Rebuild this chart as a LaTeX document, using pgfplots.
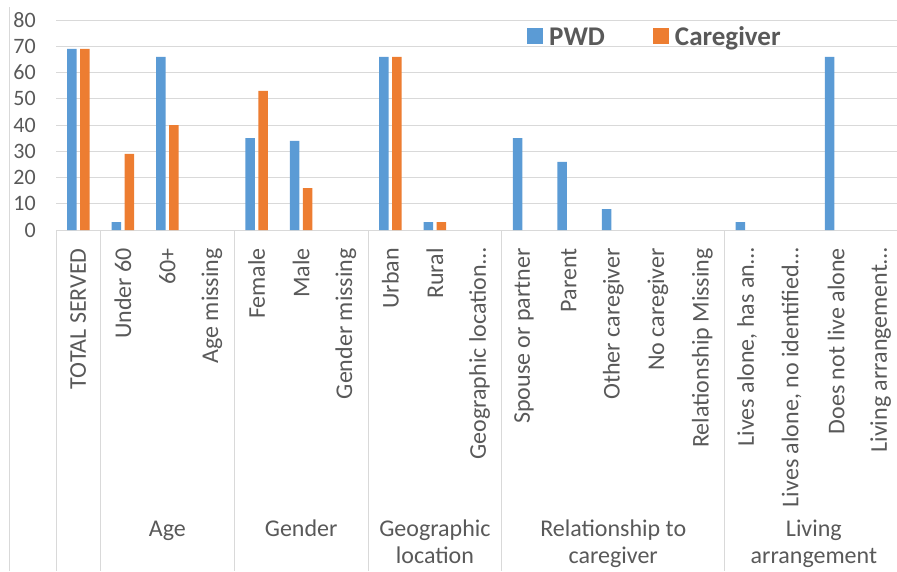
\documentclass[border=0pt]{standalone}
\usepackage{fontspec}
\setmainfont{Carlito}
\usepackage{pgfplots}
\pgfplotsset{compat=1.18}

\definecolor{pwd}{HTML}{5B9BD5}
\definecolor{cg}{HTML}{ED7D31}
\definecolor{txt}{HTML}{595959}
\definecolor{gridc}{HTML}{D9D9D9}

\begin{document}
\begin{tikzpicture}
\begin{axis}[
  at={(56pt,341pt)}, anchor=south west,
  scale only axis, width=847pt, height=210pt,
  xmin=-0.5, xmax=18.5, ymin=0, ymax=80,
  clip=false,
  ybar=3.5pt, bar width=9.5pt,
  axis line style={draw=none},
  major tick length=0pt,
  ymajorgrids, grid style={gridc, line width=1pt},
  ytick={0,10,...,80},
  xtick={0,...,18},
  xticklabels={TOTAL SERVED, Under 60, 60+, Age missing, Female, Male, Gender missing, Urban, Rural, Geographic location…, Spouse or partner, Parent, Other caregiver, No caregiver, Relationship Missing, {Lives alone, has an…}, {Lives alone, no identified…}, Does not live alone, Living arrangement…},
  /pgf/number format/assume math mode=true,
  yticklabel style={font=\fontsize{22}{26}\selectfont, text=txt, inner xsep=0pt, xshift=-20pt},
  xticklabel style={font=\fontsize{24}{28}\selectfont, text=txt, rotate=90, anchor=east, inner sep=0pt},
  xticklabel shift=18pt,
  % empty categories carry no bar
  y filter/.expression={y==0 ? nan : y},
  unbounded coords=discard,
  legend columns=2,
  legend style={at={(0.556,0.919)}, anchor=west, draw=none, fill=none, inner sep=0pt,
    font=\bfseries\fontsize{27}{31}\selectfont, text=txt,
    /tikz/every odd column/.append style={column sep=4pt},
    /tikz/every even column/.append style={column sep=46pt}},
]
\addplot[fill=pwd, draw=none, legend image code/.code={\fill[pwd] (0pt,-7pt) rectangle (16pt,9pt);}]
  coordinates {(0,69) (1,3) (2,66) (3,0) (4,35) (5,34) (6,0) (7,66) (8,3) (9,0)
               (10,35) (11,26) (12,8) (13,0) (14,0) (15,3) (16,0) (17,66) (18,0)};
\addplot[fill=cg, draw=none, legend image code/.code={\fill[cg] (0pt,-7pt) rectangle (16pt,9pt);}]
  coordinates {(0,69) (1,29) (2,40) (3,0) (4,53) (5,16) (6,0) (7,66) (8,3) (9,0)
               (10,0) (11,0) (12,0) (13,0) (14,0) (15,0) (16,0) (17,0) (18,0)};
\legend{PWD, Caregiver}

% group separators below the category axis
\pgfplotsinvokeforeach{-0.5,0.5,3.5,6.5,9.5,14.5,18.5}{
  \draw[gridc, line width=1pt] (axis cs:#1,0) -- ++(0pt,-341pt);
}
% group names
\begin{scope}[every node/.style={font=\fontsize{24}{28}\selectfont, text=txt, anchor=base, inner sep=0pt}]
\node at ([yshift=-306pt]axis cs:2,0) {Age};
\node at ([yshift=-306pt]axis cs:5,0) {Gender};
\node at ([yshift=-306pt]axis cs:8,0) {Geographic};
\node at ([yshift=-333pt]axis cs:8,0) {location};
\node at ([yshift=-306pt]axis cs:12,0) {Relationship to};
\node at ([yshift=-333pt]axis cs:12,0) {caregiver};
\node at ([yshift=-306pt]axis cs:16.5,0) {Living};
\node at ([yshift=-333pt]axis cs:16.5,0) {arrangement};
\end{scope}
\end{axis}
% chart area edge
\draw[gridc, line width=1pt] (9pt,0pt) -- (9pt,564pt);
\pgfresetboundingbox
\useasboundingbox (0pt,0pt) rectangle (897pt,571pt);
\end{tikzpicture}
\end{document}
